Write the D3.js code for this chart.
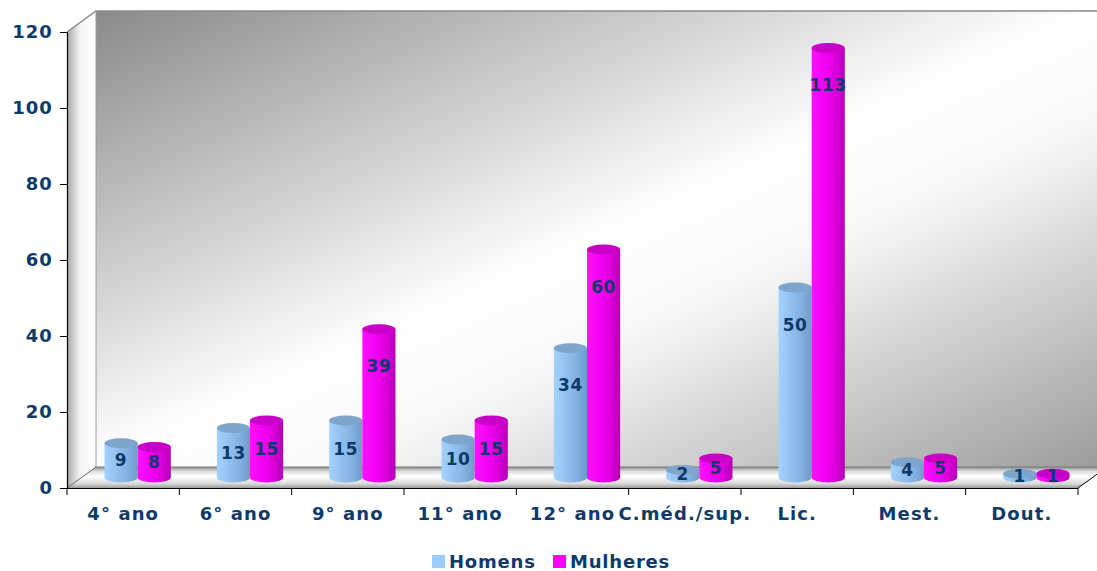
<!DOCTYPE html>
<html>
<head>
<meta charset="utf-8">
<script src="https://cdn.jsdelivr.net/npm/d3@7"></script>
<style>
  html, body { margin: 0; padding: 0; background: #fff; }
  svg { display: block; }
  text { font-family: "DejaVu Sans", Verdana, sans-serif; font-weight: bold; fill: #0d3a6b; }
</style>
</head>
<body>
<svg id="chart" width="1097" height="571"></svg>
<script>
// Habilitações por sexo
const categories = ["4° ano", "6° ano", "9° ano", "11° ano", "12° ano", "C.méd./sup.", "Lic.", "Mest.", "Dout."];
const seriesNames = ["Homens", "Mulheres"];
const homens   = [9, 13, 15, 10, 34, 2, 50, 4, 1];
const mulheres = [8, 15, 39, 15, 60, 5, 113, 5, 1];
const yTicks = [0, 20, 40, 60, 80, 100, 120];

const W = 1097, H = 571;
const plotL = 67, plotR = 1078, plotT = 32, plotB = 488;
const depthX = 29, depthY = -21;              // wall depth offset
const barDX = depthX / 2, barDY = depthY / 2; // bars stand mid-depth

const svg = d3.select("#chart");
const defs = svg.append("defs");

const x0 = d3.scaleBand().domain(categories).range([plotL, plotR]);
const groupW = x0.bandwidth() * 0.59;
const x1 = d3.scaleBand().domain(seriesNames).range([0, groupW]);
const y = d3.scaleLinear().domain([0, 120]).range([plotB, plotT]);

// ---- gradients
function linGrad(id, ax, ay, bx, by, stops) {
  const g = defs.append("linearGradient").attr("id", id)
    .attr("x1", ax).attr("y1", ay).attr("x2", bx).attr("y2", by);
  stops.forEach(([o, c]) => g.append("stop").attr("offset", o).attr("stop-color", c));
}
linGrad("wallGrad", 0, 0, 1, 1, [[0, "#8a8a8a"], [0.5, "#ffffff"], [0.62, "#f7f7f7"], [1, "#9c9c9c"]]);
linGrad("sideGrad", 0, 0, 1, 0, [[0, "#a8a8a8"], [0.45, "#f4f4f4"], [1, "#ffffff"]]);
linGrad("floorGrad", 0, 0, 0, 1, [[0, "#8c8c8c"], [0.2, "#dcdcdc"], [0.45, "#ffffff"], [0.8, "#d8d8d8"], [1, "#9a9a9a"]]);
linGrad("barH", 0, 0, 1, 0, [[0, "#a4d2ff"], [0.35, "#93c2f0"], [0.7, "#82b0e0"], [1, "#6f9bc8"]]);
linGrad("barM", 0, 0, 1, 0, [[0, "#ff10ff"], [0.45, "#f000f0"], [0.75, "#d800d8"], [1, "#b400b4"]]);
const bodyFill = { Homens: "url(#barH)", Mulheres: "url(#barM)" };
const topFill = { Homens: "#7ea5cc", Mulheres: "#c800c8" };
const swatch = { Homens: "#99ccff", Mulheres: "#ff00ff" };

// ---- walls and floor
const wallTop = plotT + depthY, wallLeft = plotL + depthX, floorBack = plotB + depthY;
const floorRightY = plotB + (W - plotR) * depthY / depthX;
svg.append("rect").attr("x", wallLeft).attr("y", wallTop)
  .attr("width", W - wallLeft).attr("height", floorBack - wallTop)
  .attr("fill", "url(#wallGrad)");
svg.append("path")
  .attr("d", `M${plotL},${plotT} L${wallLeft},${wallTop} L${wallLeft},${floorBack} L${plotL},${plotB} Z`)
  .attr("fill", "url(#sideGrad)");
svg.append("path")
  .attr("d", `M${plotL},${plotB} L${wallLeft},${floorBack} L${W},${floorBack} L${W},${floorRightY} L${plotR},${plotB} Z`)
  .attr("fill", "url(#floorGrad)");
// wall edges
svg.append("path")
  .attr("d", `M${plotL},${plotT} L${wallLeft},${wallTop} L${W},${wallTop}`)
  .attr("fill", "none").attr("stroke", "#8a8a8a").attr("stroke-width", 1.5);
svg.append("line").attr("x1", wallLeft).attr("x2", wallLeft).attr("y1", wallTop).attr("y2", floorBack)
  .attr("stroke", "#9a9a9a").attr("stroke-width", 1);
svg.append("line").attr("x1", wallLeft).attr("x2", W).attr("y1", floorBack).attr("y2", floorBack)
  .attr("stroke", "#7a7a7a").attr("stroke-width", 1);
svg.append("line").attr("x1", plotL).attr("x2", wallLeft).attr("y1", plotB).attr("y2", floorBack)
  .attr("stroke", "#666").attr("stroke-width", 1);
svg.append("line").attr("x1", plotR).attr("x2", W).attr("y1", plotB).attr("y2", floorRightY)
  .attr("stroke", "#000").attr("stroke-width", 1);

// ---- axes
const yAxis = d3.axisLeft(y).tickValues(yTicks).tickSize(7).tickPadding(7);
const gy = svg.append("g").attr("transform", `translate(${plotL},0)`).call(yAxis);
gy.select(".domain").attr("stroke", "#000").attr("stroke-width", 1.2);
gy.selectAll(".tick line").attr("stroke", "#000");
gy.selectAll(".tick text").style("font-size", "18px").style("letter-spacing", "1.1px")
  .attr("fill", "#0d3a6b");

const xAxis = d3.axisBottom(x0).tickSize(0).tickPadding(19);
const gx = svg.append("g").attr("transform", `translate(0,${plotB})`).call(xAxis);
gx.select(".domain").attr("stroke", "#000").attr("stroke-width", 1.2);
gx.selectAll(".tick text").style("font-size", "18px").style("letter-spacing", "1.1px")
  .attr("fill", "#0d3a6b");
// category separators
gx.selectAll(".sep").data(d3.range(categories.length + 1)).enter().append("line")
  .attr("class", "sep")
  .attr("x1", i => plotL + i * x0.step()).attr("x2", i => plotL + i * x0.step())
  .attr("y1", 0).attr("y2", 7).attr("stroke", "#000");

// ---- bars
const rows = categories.map((c, i) => ({ cat: c, Homens: homens[i], Mulheres: mulheres[i] }));
const ry = 5;
const barW = x1.bandwidth();
const baseY = y(0) + barDY;

const groups = svg.append("g").selectAll("g").data(rows).enter().append("g")
  .attr("transform", d => `translate(${x0(d.cat) + barDX + (x0.bandwidth() - groupW) / 2},0)`);

const bars = groups.selectAll("g").data(d => seriesNames.map(s => ({ s, v: d[s] }))).enter().append("g");
bars.append("path")
  .attr("d", d => {
    const bx = x1(d.s), ty = y(d.v) + barDY;
    return `M${bx},${ty} L${bx},${baseY} A${barW / 2},${ry} 0 0 0 ${bx + barW},${baseY} L${bx + barW},${ty} Z`;
  })
  .attr("fill", d => bodyFill[d.s]);
bars.append("ellipse")
  .attr("cx", d => x1(d.s) + barW / 2)
  .attr("cy", d => y(d.v) + barDY)
  .attr("rx", barW / 2).attr("ry", ry)
  .attr("fill", d => topFill[d.s]);

// value labels
bars.append("text")
  .attr("x", d => x1(d.s) + barW / 2)
  .attr("y", d => {
    const ty = y(d.v) + barDY;
    return ty + Math.min((baseY - ty) / 2, 37);
  })
  .attr("text-anchor", "middle").attr("dominant-baseline", "central")
  .style("font-size", "17px").style("letter-spacing", "0.6px")
  .text(d => d.v);

// ---- legend
const legend = svg.append("g");
const legendItems = [{ s: "Homens", x: 432 }, { s: "Mulheres", x: 553 }];
legendItems.forEach(it => {
  legend.append("rect").attr("x", it.x).attr("y", 555).attr("width", 13).attr("height", 13)
    .attr("fill", swatch[it.s]);
  legend.append("text").attr("x", it.x + 17).attr("y", 568)
    .style("font-size", "18px").style("letter-spacing", "0.8px").text(it.s);
});
</script>
</body>
</html>
